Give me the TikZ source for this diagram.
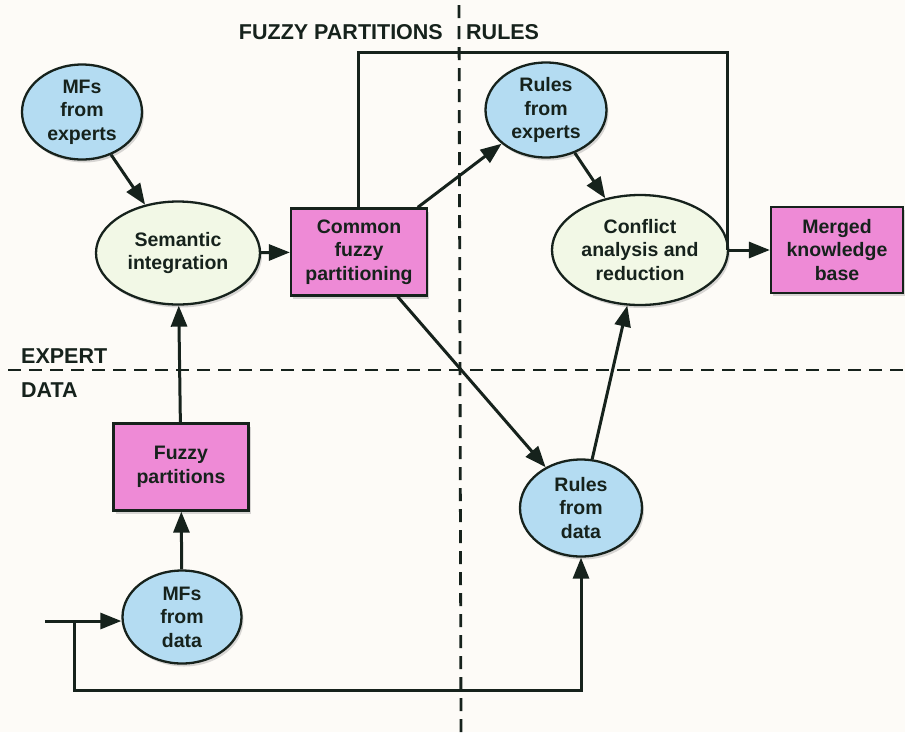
\documentclass[tikz,border=0pt]{standalone}
\usepackage{fontspec}
\setmainfont{Liberation Sans}
\usetikzlibrary{shapes.geometric,arrows.meta,shadows}
\definecolor{bgc}{HTML}{FDFBF7}
\definecolor{bluef}{HTML}{B4DCF2}
\definecolor{greenf}{HTML}{F2F8E6}
\definecolor{pinkf}{HTML}{EE8AD6}
\definecolor{inkc}{HTML}{16221C}
\tikzset{
  base/.style={draw=inkc, line width=2.3pt, align=center, inner sep=0pt,
    font=\fontsize{19.5}{23.5}\selectfont\bfseries, text=inkc,
    drop shadow={opacity=0.3, shadow xshift=2pt, shadow yshift=-3pt}},
  blueell/.style={base, ellipse, fill=bluef},
  greenell/.style={base, ellipse, fill=greenf},
  pinkbox/.style={base, rectangle, fill=pinkf},
  conn/.style={draw=inkc, line width=3pt},
  arr/.style={conn, -{Triangle[length=21pt,width=16pt]}},
  divider/.style={draw=inkc, line width=2.8pt, dash pattern=on 13pt off 8pt},
  lab/.style={inner sep=0pt, font=\fontsize{21.5}{24}\selectfont\bfseries, text=inkc}
}
\begin{document}
\begin{tikzpicture}[x=1pt,y=-1pt]
\fill[bgc] (0,0) rectangle (905,732);
\useasboundingbox (0,0) rectangle (905,732);

% dividers
\draw[divider] (459,5) -- (461,732);
\draw[divider] (8,370) -- (905,370);

% labels
\node[lab, anchor=base east] (lfp) at (443,39) {FUZZY PARTITIONS};
\node[lab, anchor=base west] (lru) at (466,39) {RULES};
\node[lab, anchor=base west] (lex) at (21,363) {EXPERT};
\node[lab, anchor=base west] (lda) at (21,397) {DATA};

% nodes
\node[blueell, minimum width=120pt, minimum height=95pt] (mfe) at (82,112) {MFs\\from\\experts};
\node[greenell, minimum width=164pt, minimum height=103pt] (sem) at (178,253) {Semantic\\integration};
\node[pinkbox, minimum width=136pt, minimum height=87pt] (cfp) at (359,252) {Common\\fuzzy\\partitioning};
\node[blueell, minimum width=121pt, minimum height=95pt] (rfe) at (546,110) {Rules\\from\\experts};
\node[greenell, minimum width=176pt, minimum height=110pt] (car) at (640,250) {Conflict\\analysis and\\reduction};
\node[pinkbox, minimum width=132pt, minimum height=86pt] (mkb) at (837,250) {Merged\\knowledge\\base};
\node[pinkbox, minimum width=135pt, minimum height=87pt] (fp) at (181,467) {Fuzzy\\partitions};
\node[blueell, minimum width=119pt, minimum height=93pt] (mfd) at (182,617) {MFs\\from\\data};
\node[blueell, minimum width=122pt, minimum height=97pt] (rfd) at (581,508) {Rules\\from\\data};

% coordinates
\coordinate (in) at (45,621);
\coordinate (br) at (74,621);
\coordinate (bot) at (581,690);
\coordinate (fbl) at (358,52);
\coordinate (fbr) at (727,52);

% connectors
\draw[arr] (mfe) -- (sem);
\draw[arr] (sem) -- (cfp);
\draw[arr] (cfp) -- (rfe);
\draw[arr] (rfe) -- (car);
\draw[arr] (cfp) -- (rfd);
\draw[arr] (rfd) -- (car);
\draw[arr] (fp) -- (sem);
\draw[arr] (mfd) -- (fp);
\draw[arr] (car) -- (mkb);
\draw[conn] (cfp.north -| fbl) -- (fbl) -- (fbr) -- (car.east -| fbr);
\draw[arr] (in) -- (in -| mfd.west);
\draw[arr] (br) |- (bot) -- (rfd.south);
\end{tikzpicture}
\end{document}
